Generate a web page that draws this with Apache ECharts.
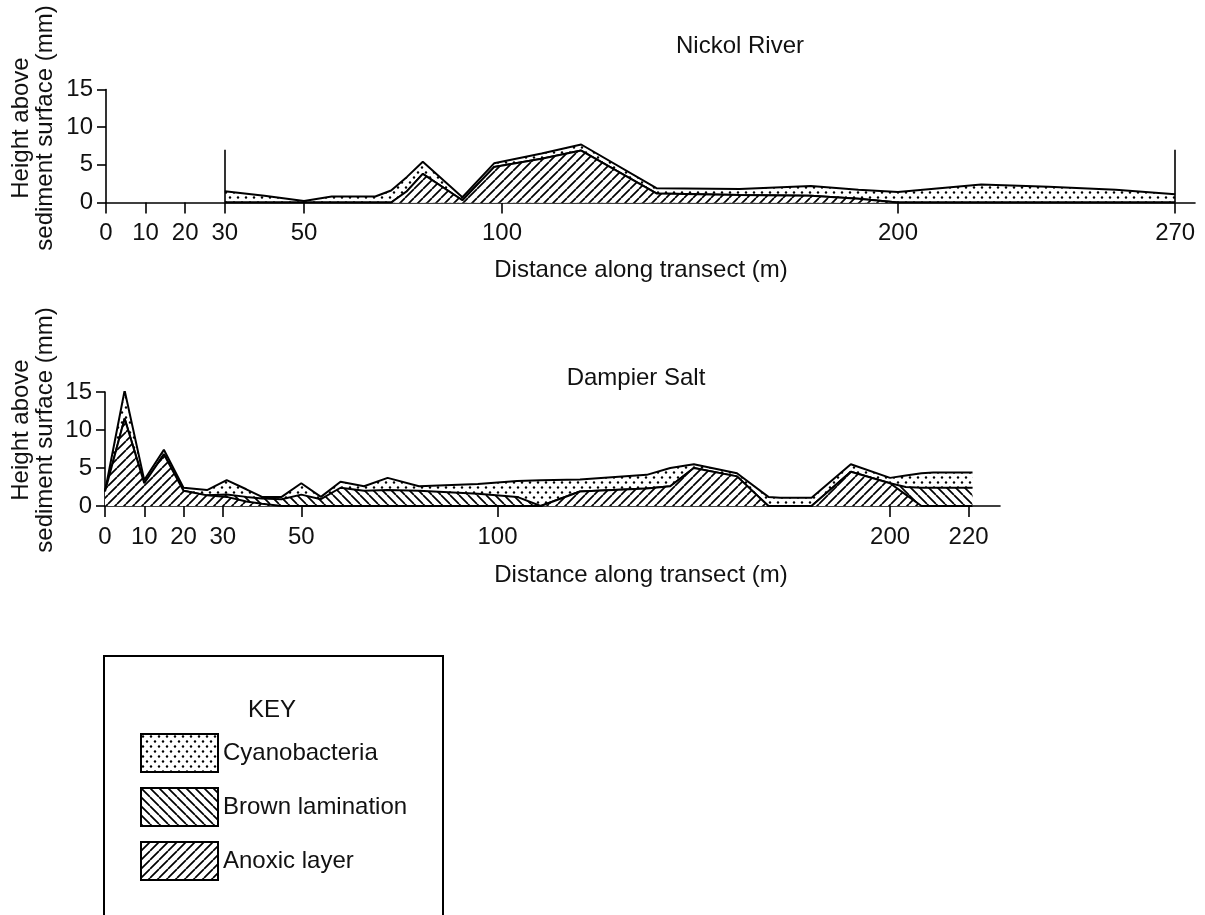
<!DOCTYPE html>
<html>
<head>
<meta charset="utf-8">
<title>Nickol River and Dampier Salt transects</title>
<script src="https://cdn.jsdelivr.net/npm/echarts@6/dist/echarts.min.js"></script>
<style>
  html, body { margin: 0; padding: 0; background: #fff; }
  #chart { width: 1205px; height: 915px; }
</style>
</head>
<body>
<div id="chart"></div>
<script>
// distance along transect (m) and thickness of each layer (mm), bottom layer first
const nickolX      = [30, 40, 50, 57, 68, 72, 76, 80, 90, 98, 110, 120, 139, 160, 178, 190, 200, 221, 238, 255, 270]
const nickolAnoxic = [0, 0, 0, 0, 0, 0, 1.5, 3.8, 0.3, 4.7, 5.8, 6.9, 1.2, 1.0, 0.9, 0.5, 0, 0, 0, 0, 0]
const nickolBrown  = [0, 0, 0, 0, 0, 0, 0, 0, 0, 0, 0, 0, 0, 0, 0, 0, 0, 0, 0, 0, 0]
const nickolCyano  = [1.5, 0.9, 0.2, 0.8, 0.8, 1.6, 1.9, 1.6, 0.4, 0.5, 0.7, 0.8, 0.7, 0.8, 1.3, 1.2, 1.4, 2.4, 2.1, 1.7, 1.1]
const nickolEnds   = [30, 270]   // transect limits
const endHeight    = 7

const dampierX      = [0, 5, 10, 15, 20, 26, 31, 36, 40, 45, 50, 55, 60, 66, 72, 80, 95, 105, 111, 121, 138, 144, 150, 161, 169, 172, 180, 190, 200, 204, 208, 211, 221]
const dampierAnoxic = [1.9, 11.5, 3.0, 6.8, 2.0, 1.4, 1.2, 0.6, 0.3, 0, 0, 0, 0, 0, 0, 0, 0, 0, 0, 1.9, 2.3, 2.6, 5.0, 3.9, 0, 0, 0, 4.5, 3.0, 1.5, 0, 0, 0]
const dampierBrown  = [0, 0, 0, 0, 0, 0, 0.3, 0.6, 0.7, 0.9, 1.5, 0.9, 2.4, 2.0, 2.1, 2.0, 1.6, 1.2, 0, 0, 0, 0, 0, 0, 0, 0, 0, 0, 0, 1.0, 2.4, 2.4, 2.4]
const dampierCyano  = [0, 3.7, 0.4, 0.6, 0.4, 0.7, 1.9, 1.0, 0.2, 0.3, 1.5, 0.3, 0.8, 0.6, 1.6, 0.6, 1.3, 2.1, 3.4, 1.6, 1.8, 2.4, 0.5, 0.4, 1.2, 1.1, 1.1, 1.0, 0.7, 1.5, 1.9, 2.0, 2.0]

const nickolTicks  = [0, 10, 20, 30, 50, 100, 200, 270]
const dampierTicks = [0, 10, 20, 30, 50, 100, 200, 220]

const layerNames = ['Anoxic layer', 'Brown lamination', 'Cyanobacteria']

const FONT = 'Liberation Sans, Arial, sans-serif'
const INK = '#111'
const FS = 24

// fill patterns
function hatch(slash) {
  const s = 9
  const c = document.createElement('canvas')
  c.width = c.height = s
  const g = c.getContext('2d')
  g.fillStyle = '#fff'
  g.fillRect(0, 0, s, s)
  g.strokeStyle = '#000'
  g.lineWidth = 1.7
  g.beginPath()
  for (const k of [-s, 0, s]) {
    if (slash) { g.moveTo(k, s); g.lineTo(k + s, 0) }
    else { g.moveTo(k, 0); g.lineTo(k + s, s) }
  }
  g.stroke()
  return { image: c, repeat: 'repeat' }
}
function dots() {
  const c = document.createElement('canvas')
  c.width = 8; c.height = 10
  const g = c.getContext('2d')
  g.fillStyle = '#fff'
  g.fillRect(0, 0, 8, 10)
  g.fillStyle = '#000'
  for (const [x, y] of [[2, 2.5], [6, 7.5]]) {
    g.beginPath(); g.arc(x, y, 1.2, 0, Math.PI * 2); g.fill()
  }
  return { image: c, repeat: 'repeat' }
}
const fills = { 'Anoxic layer': hatch(true), 'Brown lamination': hatch(false), 'Cyanobacteria': dots() }

// each layer is drawn as the top of the pile down to the axis; the lower layers
// are painted over it (higher z), so only its own band stays visible
function layerSeries(idx, xs, layers) {
  let running = xs.map(() => 0)
  return layers.map((vals, i) => {
    running = running.map((v, j) => +(v + vals[j]).toFixed(2))
    const tops = running
    return {
      name: layerNames[i],
      type: 'line',
      xAxisIndex: idx,
      yAxisIndex: idx,
      z: 4 - i,
      symbol: 'none',
      lineStyle: { color: '#000', width: 2 },
      itemStyle: { color: '#000' },
      areaStyle: { color: fills[layerNames[i]], opacity: 1, origin: 'start' },
      data: xs.map((x, j) => [x, tops[j]])
    }
  })
}

function xAxis(idx, max, ticks) {
  return {
    type: 'value', gridIndex: idx, min: 0, max: max,
    axisLine: { onZero: false, lineStyle: { color: '#000', width: 1.6 } },
    axisTick: { customValues: ticks, length: 11, lineStyle: { color: '#000', width: 1.6 } },
    axisLabel: { customValues: ticks, margin: 19, fontSize: FS, color: INK, fontFamily: FONT },
    splitLine: { show: false }
  }
}
function yAxis(idx) {
  return {
    type: 'value', gridIndex: idx, min: 0, max: 15, interval: 5,
    axisLine: { show: true, lineStyle: { color: '#000', width: 1.6 } },
    axisTick: { show: true, length: 9, lineStyle: { color: '#000', width: 1.6 } },
    axisLabel: { margin: 13, fontSize: FS, color: INK, fontFamily: FONT },
    splitLine: { show: false }
  }
}

function label(text, x, y, extra) {
  return Object.assign({
    type: 'text', x: x, y: y,
    style: { text: text, fill: INK, font: FS + 'px ' + FONT, align: 'center', verticalAlign: 'middle', lineHeight: 24 }
  }, extra || {})
}

const series = [
  ...layerSeries(0, nickolX, [nickolAnoxic, nickolBrown, nickolCyano]),
  ...layerSeries(1, dampierX, [dampierAnoxic, dampierBrown, dampierCyano])
]
series[2].markLine = {
  silent: true, symbol: 'none', label: { show: false },
  lineStyle: { color: '#000', type: 'solid', width: 1.6 },
  data: nickolEnds.map(x => [{ coord: [x, 0] }, { coord: [x, endHeight] }])
}

const chart = echarts.init(document.getElementById('chart'), null, { renderer: 'canvas' })
chart.setOption({
  animation: false,
  backgroundColor: '#fff',
  textStyle: { fontFamily: FONT },
  grid: [
    { left: 106, top: 89.5, width: 1089, height: 113, outerBoundsMode: 'none' },
    { left: 105, top: 392, width: 895, height: 114, outerBoundsMode: 'none' }
  ],
  xAxis: [xAxis(0, 275, nickolTicks), xAxis(1, 228, dampierTicks)],
  yAxis: [yAxis(0), yAxis(1)],
  legend: {
    orient: 'vertical', left: 135, top: 728,
    itemWidth: 77, itemHeight: 38, itemGap: 14,
    selectedMode: false, icon: 'rect',
    textStyle: { fontSize: FS, color: INK, fontFamily: FONT },
    itemStyle: { borderColor: '#000', borderWidth: 2 },
    data: ['Cyanobacteria', 'Brown lamination', 'Anoxic layer'].map(n => ({
      name: n, icon: 'rect',
      itemStyle: { color: fills[n], borderColor: '#000', borderWidth: 2 }
    }))
  },
  graphic: [
    label('Nickol River', 740, 46),
    label('Dampier Salt', 636, 378),
    label('Distance along transect (m)', 641, 270),
    label('Distance along transect (m)', 641, 575),
    label('Height above\nsediment surface (mm)', 33, 128, { rotation: Math.PI / 2 }),
    label('Height above\nsediment surface (mm)', 33, 430, { rotation: Math.PI / 2 }),
    { type: 'rect', shape: { x: 104, y: 656, width: 339, height: 300 },
      style: { fill: 'none', stroke: '#000', lineWidth: 2 } },
    label('KEY', 272, 710)
  ],
  series: series
})
</script>
</body>
</html>
